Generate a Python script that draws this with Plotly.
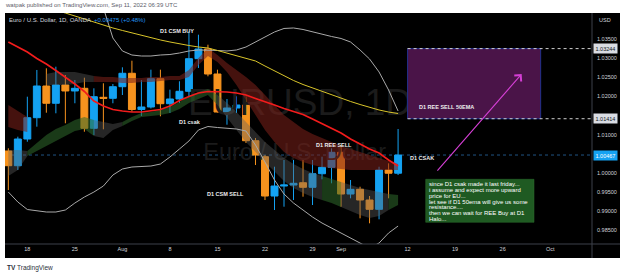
import plotly.graph_objects as go

# ---------------- data ----------------
dates = ["2022-07-14", "2022-07-15", "2022-07-18", "2022-07-19", "2022-07-20", "2022-07-21", "2022-07-22",
         "2022-07-25", "2022-07-26", "2022-07-27", "2022-07-28", "2022-07-29",
         "2022-08-01", "2022-08-02", "2022-08-03", "2022-08-04", "2022-08-05",
         "2022-08-08", "2022-08-09", "2022-08-10", "2022-08-11", "2022-08-12",
         "2022-08-15", "2022-08-16", "2022-08-17", "2022-08-18", "2022-08-19",
         "2022-08-22", "2022-08-23", "2022-08-24", "2022-08-25", "2022-08-26",
         "2022-08-29", "2022-08-30", "2022-08-31", "2022-09-01", "2022-09-02",
         "2022-09-05", "2022-09-06", "2022-09-07", "2022-09-08", "2022-09-09"]

opens = [1.00572, 1.00188, 1.00885, 1.01441, 1.02268, 1.01817, 1.02294, 1.02138, 1.02208, 1.01164, 1.01973, 1.01947,
         1.02250, 1.02600, 1.01655, 1.01720, 1.02459, 1.01806, 1.01929, 1.02130, 1.02981, 1.03234, 1.02581, 1.01589,
         1.01694, 1.01772, 1.00840, 1.00423, 0.99397, 0.99658, 0.99684, 0.99744, 0.99624, 0.99979, 1.00146, 1.00538,
         0.99449, 0.99572, 0.99293, 0.99050, 1.00076, 0.99992]
highs = [1.00642, 1.00945, 1.01989, 1.02686, 1.02730, 1.02772, 1.02555, 1.02425, 1.02485, 1.02208, 1.02339, 1.02320,
         1.02756, 1.02928, 1.02425, 1.02694, 1.02694, 1.02172, 1.02391, 1.03696, 1.03607, 1.03346, 1.02694, 1.01929,
         1.01999, 1.01999, 1.00911, 1.00467, 1.00162, 1.00337, 1.00337, 1.00337, 1.00337, 1.00423, 1.00642, 1.00728,
         0.99815, 0.99640, 0.99397, 1.00162, 1.00251, 1.01146]
lows = [0.99554, 1.00076, 1.00814, 1.01206, 1.01571, 1.01556, 1.01295, 1.01817, 1.01075, 1.00989, 1.01138, 1.01817,
        1.02033, 1.01597, 1.01485, 1.01680, 1.01477, 1.01563, 1.01824, 1.01999, 1.02738, 1.02521, 1.01576, 1.01258,
        1.01563, 1.00780, 1.00206, 0.99293, 0.99032, 0.99118, 0.99293, 0.99379, 0.99162, 0.99833, 0.99729, 0.99118,
        0.99337, 0.98815, 0.98685, 0.98789, 0.99337, 0.99945]
closes = [1.00188, 1.00885, 1.01441, 1.02268, 1.01817, 1.02294, 1.02138, 1.02208, 1.01164, 1.01989, 1.01947, 1.02250,
          1.02600, 1.01655, 1.01720, 1.02459, 1.01806, 1.01929, 1.02130, 1.02981, 1.03234, 1.02581, 1.01589, 1.01694,
          1.01772, 1.00840, 1.00467, 0.99397, 0.99658, 0.99684, 0.99729, 0.99624, 0.99979, 1.00146, 1.00538, 0.99449,
          0.99572, 0.99293, 0.99050, 1.00076, 0.99992, 1.00467]

ema50 = [1.04617, 1.04538, 1.04460, 1.04382, 1.04317, 1.04239, 1.04173, 1.04095, 1.04004, 1.03938, 1.03860, 1.03782,
         1.03717, 1.03651, 1.03586, 1.03521, 1.03469, 1.03417, 1.03364, 1.03325, 1.03286, 1.03260, 1.03195, 1.03129,
         1.03064, 1.02999, 1.02921, 1.02790, 1.02660, 1.02529, 1.02412, 1.02307, 1.02216, 1.02125, 1.02033, 1.01942,
         1.01864, 1.01785, 1.01707, 1.01642, 1.01589, 1.01550]
ema20 = [1.03416, 1.03286, 1.03155, 1.02986, 1.02842, 1.02673, 1.02503, 1.02320, 1.02125, 1.01877, 1.01746, 1.01655,
         1.01616, 1.01589, 1.01589, 1.01616, 1.01655, 1.01746, 1.01890, 1.01994, 1.02085, 1.02125, 1.02125, 1.02111,
         1.02085, 1.02033, 1.01942, 1.01864, 1.01772, 1.01681, 1.01603, 1.01524, 1.01407, 1.01289, 1.01172, 1.01041,
         1.00885, 1.00754, 1.00624, 1.00519, 1.00337, 1.00180]
bb_upper = [1.07645, 1.07515, 1.07384, 1.07123, 1.06862, 1.06601, 1.06340, 1.06079, 1.05688, 1.05035, 1.04304, 1.03521,
            1.03182, 1.03077, 1.03051, 1.03051, 1.03077, 1.03090, 1.03129, 1.03182, 1.03208, 1.03208, 1.03195, 1.03182,
            1.03208, 1.03286, 1.03416, 1.03547, 1.03678, 1.03769, 1.03782, 1.03743, 1.03678, 1.03612, 1.03560, 1.03508,
            1.03416, 1.03208, 1.02973, 1.02634, 1.02164, 1.01616]
bb_lower = [0.99502, 0.99241, 0.99045, 0.99006, 0.98980, 0.98980, 0.99032, 0.99214, 0.99371, 0.99501, 0.99658, 0.99945,
            1.00102, 1.00154, 1.00167, 1.00180, 1.00232, 1.00415, 1.00624, 1.00833, 1.01120, 1.01211, 1.01185, 1.01159,
            1.01146, 1.01094, 1.00728, 1.00284, 0.99815, 0.99449, 0.99214, 0.99032, 0.98849, 0.98692, 0.98562, 0.98432,
            0.98301, 0.98170, 0.98040, 0.98170, 0.98432, 0.98614]

# "Halo" ribbon: upper band and lower band (top, bottom, state r=bear, g=bull, n=neutral)
halo_up_top = [1.01772, 1.01616, 1.01459, None, 1.02581, 1.02634, 1.02634, 1.02634, 1.02581, 1.02529, 1.02503, 1.02503,
               1.02477, 1.02477, 1.02477, 1.02503, 1.02503, 1.02529, 1.02529, 1.02686, 1.02999, 1.03260, 1.03077, 1.02868,
               1.02686, 1.02503, 1.02294, 1.02033, 1.01772, 1.01511, 1.01328, 1.01146, 1.01015, 1.00911, 1.00807, 1.00702,
               1.00624, 1.00545, 1.00467, 1.00389, 1.00311, 1.00232]
halo_up_bot = [1.01198, 1.01120, 1.01067, None, 1.02294, 1.02294, 1.02294, 1.02320, 1.02373, 1.02373, 1.02373, 1.02373,
               1.02346, 1.02346, 1.02373, 1.02373, 1.02399, 1.02425, 1.02425, 1.02503, 1.02816, 1.03051, 1.02894, 1.02634,
               1.02294, 1.01903, 1.01511, 1.01120, 1.00807, 1.00545, 1.00389, 1.00284, 1.00206, 1.00154, 1.00128, 1.00102,
               1.00076, 1.00076, 1.00076, 1.00076, 1.00076, 1.00076]
halo_up_state = list("rrr" + "x" + "nnnnn" + "rrrrrrrrrrrrrrrrrrrrrrrrrrrrrrrrr")

halo_lo_top = [1.00598, 1.00598, 1.00572, 1.00780, 1.00989, 1.01146, 1.01250, 1.01381, 1.01459, 1.01381, 1.01328, 1.01276,
               1.01328, 1.01459, 1.01563, 1.01589, 1.01642, 1.01720, 1.01850, 1.02007, 1.02112, 1.02190, 1.02033, 1.01824,
               1.01589, 1.01328, 1.01067, 1.00807, 1.00598, 1.00389, 1.00232, 1.00102, 0.99997, 0.99919, 0.99841, 0.99762,
               0.99684, 0.99606, 0.99554, 0.99501, 0.99449, 0.99423]
halo_lo_bot = [0.99919, 1.00076, 1.00441, 1.00572, 1.00702, 1.00833, 1.00963, 1.01094, 1.01146, 1.00963, 1.00911, 1.01120,
               1.01224, 1.01355, 1.01459, 1.01485, 1.01511, 1.01563, 1.01668, 1.01824, 1.01929, 1.02033, 1.01772, 1.01459,
               1.01120, 1.00807, 1.00545, 1.00284, 1.00023, 0.99789, 0.99606, 0.99475, 0.99371, 0.99293, 0.99214, 0.99110,
               0.99006, 0.98901, 0.98823, 0.98875, 0.99032, 0.99162]
halo_lo_state = list("nn" + "ggggggg" + "nnn" + "gggggggggg" + "nnnnnnnnnnn" + "gg" + "nnnnn" + "gg")

tick_dates = ["2022-07-18", "2022-07-25", "2022-08-01", "2022-08-08", "2022-08-15", "2022-08-22", "2022-08-29",
              "2022-09-01", "2022-09-12", "2022-09-19", "2022-09-26", "2022-10-03"]
tick_text = ["18", "25", "Aug", "8", "15", "22", "29", "Sep", "12", "19", "26", "Oct"]
# 1.00500 and 1.01500 sit under the price tags in the reference, so they are not shown
price_ticks = [0.985, 0.990, 0.995, 1.000, 1.010, 1.020, 1.025, 1.030, 1.035]

box_dates = ["2022-09-12", "2022-09-30"]
box_prices = [1.01414, 1.03244]
arrow_dates = ["2022-09-15", "2022-09-28"]
arrow_prices = [1.00023, 1.02581]
view_dates = ["2022-07-14 03:36", "2022-10-07 21:36"]
view_prices = [0.98145, 1.04173]

note_lines = ["since D1 csak made it last friday...",
              "i assume and expect more upward",
              "price for EU...",
              "let see if D1 50ema will give us some",
              "resistance....",
              "then we can wait for REE Buy at D1",
              "Halo..."]

# ---------------- style ----------------
BLUE = "#14a2f2"
ORANGE = "#f7931e"
FONT = "Liberation Sans, Arial, sans-serif"
W, H = 625, 275
ML, MR, MT, MB = 5, 33, 13, 31
PW, PH = W - ML - MR, H - MT - MB


def pxx(px):
    return (px - ML) / PW


def pyy(py):
    return (H - MB - py) / PH


def noon(d):
    return d + " 12:00"


X = [noon(d) for d in dates]

fig = go.Figure()

# watermark (as text trace so it stays behind the candles)
fig.add_trace(go.Scatter(x=["2022-08-26 04:30"], y=[1.01760], mode="text", text=["EURUSD, 1D"],
                         textfont=dict(family=FONT, size=37, color="#1b1b1b"), hoverinfo="skip", showlegend=False))
fig.add_trace(go.Scatter(x=["2022-08-25 15:00"], y=[1.00490], mode="text", text=["Euro / U.S. Dollar"],
                         textfont=dict(family=FONT, size=23.5, color="#1b1b1b"), hoverinfo="skip", showlegend=False))

# halo ribbons
STATE_COL = {"r": "rgba(125,32,26,0.55)", "g": "rgba(48,105,44,0.55)", "n": "rgba(95,95,95,0.40)"}


def add_band(top, bot, state):
    n = len(top)
    i = 0
    while i < n:
        if top[i] is None or state[i] == "x":
            i += 1
            continue
        j = i
        while j + 1 < n and top[j + 1] is not None and state[j + 1] == state[i]:
            j += 1
        end = j + 1 if (j + 1 < n and top[j + 1] is not None) else j
        xs = X[i:end + 1]
        ys_t = top[i:end + 1]
        ys_b = bot[i:end + 1]
        fig.add_trace(go.Scatter(x=xs + xs[::-1], y=ys_t + ys_b[::-1], mode="lines", fill="toself",
                                 fillcolor=STATE_COL[state[i]], line=dict(width=0), hoverinfo="skip",
                                 showlegend=False))
        i = j + 1


add_band(halo_up_top, halo_up_bot, halo_up_state)
add_band(halo_lo_top, halo_lo_bot, halo_lo_state)

# candles
fig.add_trace(go.Candlestick(x=X, open=opens, high=highs, low=lows, close=closes,
                             increasing=dict(line=dict(color=BLUE, width=1), fillcolor=BLUE),
                             decreasing=dict(line=dict(color=ORANGE, width=1), fillcolor=ORANGE),
                             whiskerwidth=0, showlegend=False, hoverinfo="skip"))

# bollinger + emas
for arr in (bb_upper, bb_lower):
    fig.add_trace(go.Scatter(x=X, y=arr, mode="lines", line=dict(color="#a9a9a9", width=1),
                             hoverinfo="skip", showlegend=False))
fig.add_trace(go.Scatter(x=X, y=ema50, mode="lines", line=dict(color="#d8c42a", width=1),
                         hoverinfo="skip", showlegend=False))
fig.add_trace(go.Scatter(x=X, y=ema20, mode="lines", line=dict(color="#f21c1c", width=1.7),
                         hoverinfo="skip", showlegend=False))

shapes = []
# chart panel background
shapes.append(dict(type="rect", xref="paper", yref="paper", x0=pxx(5), x1=pxx(620), y0=pyy(258), y1=pyy(13),
                   fillcolor="#000000", line=dict(width=0), layer="below"))
# current price dotted line
shapes.append(dict(type="line", xref="paper", yref="y", x0=0, x1=1, y0=closes[-1], y1=closes[-1],
                   line=dict(color="#1f5384", width=1, dash="dot"), layer="below"))
# separators
shapes.append(dict(type="line", xref="paper", yref="paper", x0=1, x1=1, y0=pyy(258), y1=pyy(13),
                   line=dict(color="#3d404b", width=1)))
shapes.append(dict(type="line", xref="paper", yref="paper", x0=pxx(5), x1=pxx(620), y0=0, y1=0,
                   line=dict(color="#3d404b", width=1)))
# purple zone
shapes.append(dict(type="rect", xref="x", yref="y", x0=noon(box_dates[0]), x1=noon(box_dates[1]),
                   y0=box_prices[0], y1=box_prices[1], fillcolor="#4a1448",
                   line=dict(color="#23308c", width=1), layer="above"))
for p in box_prices:
    shapes.append(dict(type="line", xref="x", yref="y", x0=noon(box_dates[0]), x1=view_dates[1], y0=p, y1=p,
                       line=dict(color="#d0d0d0", width=1, dash="dot"), layer="above"))
# note box
shapes.append(dict(type="rect", xref="paper", yref="paper", x0=pxx(425.7), x1=pxx(534), y0=pyy(222.3),
                   y1=pyy(179.3), fillcolor="#1f5a22", line=dict(color="#2c6e2f", width=0.5), layer="above"))

ann = []
# header / footer
ann.append(dict(xref="paper", yref="paper", x=pxx(3), y=pyy(5.5), xanchor="left", yanchor="middle",
                text="watpak published on TradingView.com, Sep 11, 2022 06:39 UTC", showarrow=False,
                font=dict(family=FONT, size=6, color="#5d606b")))
ann.append(dict(xref="paper", yref="paper", x=pxx(7), y=pyy(19.5), xanchor="left", yanchor="middle",
                text="Euro / U.S. Dollar, 1D, OANDA  <span style='color:#2196f3'>+0.00475 (+0.48%)</span>",
                showarrow=False, font=dict(family=FONT, size=6, color="#d1d4dc")))
ann.append(dict(xref="paper", yref="paper", x=pxx(5), y=pyy(267.5), xanchor="left", yanchor="middle",
                text="<b>TV</b> TradingView", showarrow=False,
                font=dict(family=FONT, size=6.5, color="#2a2e39")))
ann.append(dict(xref="paper", yref="paper", x=pxx(597), y=pyy(20), xanchor="left", yanchor="middle",
                text="USD", showarrow=False, font=dict(family=FONT, size=5.5, color="#d1d4dc")))

# chart labels
LBL = dict(family=FONT, size=5.5, color="#ececec")
for txt, px, py, anchor in [("D1 CSM BUY", 177, 31, "center"), ("D1 csak", 190, 122, "center"),
                            ("D1 REE SELL", 334, 145, "center"), ("D1 CSAK", 408, 157.5, "left"),
                            ("D1 CSM SELL", 225, 194, "center"), ("D1 REE SELL 50EMA", 417, 107, "left")]:
    ann.append(dict(xref="paper", yref="paper", x=pxx(px), y=pyy(py), xanchor=anchor, yanchor="middle",
                    text="<b>" + txt + "</b>", showarrow=False, font=LBL))

# note text
note_y = [184.2, 190.0, 195.8, 201.6, 207.4, 213.2, 219.0]
for line, py in zip(note_lines, note_y):
    ann.append(dict(xref="paper", yref="paper", x=pxx(427.5), y=pyy(py), xanchor="left", yanchor="middle",
                    text=line, showarrow=False, font=dict(family=FONT, size=6, color="#ffffff")))

# price tags
for p, bg, fc in [(box_prices[1], "#d9dce3", "#131722"), (box_prices[0], "#d9dce3", "#131722"),
                  (closes[-1], BLUE, "#ffffff")]:
    ann.append(dict(xref="paper", yref="y", x=1, y=p, xanchor="left", yanchor="middle", xshift=1,
                    text="%.5f" % p, showarrow=False, bgcolor=bg, borderpad=1.5,
                    font=dict(family=FONT, size=5.5, color=fc)))

# arrow
ann.append(dict(xref="x", yref="y", x=noon(arrow_dates[1]), y=arrow_prices[1],
                axref="x", ayref="y", ax=noon(arrow_dates[0]), ay=arrow_prices[0],
                text="", showarrow=True, arrowhead=4, arrowsize=1.6, arrowwidth=1.1, arrowcolor="#d43fd4"))

fig.update_layout(
    width=W, height=H, margin=dict(l=ML, r=MR, t=MT, b=MB),
    paper_bgcolor="#ffffff", plot_bgcolor="rgba(0,0,0,0)",
    boxgap=0.27, boxgroupgap=0,
    showlegend=False, shapes=shapes, annotations=ann,
    xaxis=dict(type="date", range=view_dates, rangebreaks=[dict(bounds=["sat", "mon"])],
               rangeslider=dict(visible=False), showgrid=False, zeroline=False, showline=False,
               tickvals=[noon(d) for d in tick_dates], ticktext=tick_text, ticks="",
               tickfont=dict(family=FONT, size=5.5, color="#d1d4dc")),
    yaxis=dict(side="right", range=view_prices, showgrid=False, zeroline=False, showline=False,
               tickvals=price_ticks, ticktext=["%.5f" % v for v in price_ticks], ticks="",
               ticklabelstandoff=4, tickfont=dict(family=FONT, size=5.5, color="#d1d4dc")),
)

fig.write_html("out.html")
